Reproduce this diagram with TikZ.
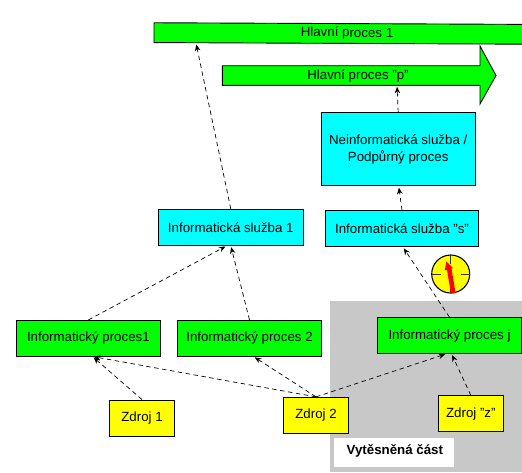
\documentclass[tikz,border=0pt]{standalone}
\usepackage{fontspec}
\setmainfont{Liberation Sans}
\usetikzlibrary{arrows.meta,calc}
\definecolor{procgreen}{RGB}{0,255,0}
\definecolor{svccyan}{RGB}{0,255,255}
\definecolor{srcyellow}{RGB}{255,255,0}
\definecolor{areagray}{RGB}{200,200,200}
\newcommand{\lbl}{\fontsize{13.3}{17}\selectfont}
\tikzset{
  box/.style={draw=black,line width=0.9pt,inner sep=0pt,align=center,font=\lbl},
  procbox/.style={box,fill=procgreen,minimum width=144.7pt,minimum height=35.7pt},
  svcbox/.style={box,fill=svccyan,minimum width=145pt,minimum height=36pt},
  srcbox/.style={box,fill=srcyellow,minimum width=65pt,minimum height=36pt},
  link/.style={draw=black,line width=0.7pt,dash pattern=on 4.5pt off 3.5pt,-{Stealth[length=6.5pt,width=5.5pt]},shorten >=1.5pt},
}
\begin{document}
\begin{tikzpicture}[x=1pt,y=-1pt]
\useasboundingbox (0,0) rectangle (522,472);
% displaced area
\fill[areagray] (330,301) rectangle (522,472);
\fill[white] (334,438) rectangle (454,467);
\node[font=\lbl\bfseries,anchor=west,inner sep=0pt] (vyt) at (346.5,451) {Vytěsněná část};
% main processes
\node[box,fill=procgreen,minimum width=386pt,minimum height=19.8pt,rotate=-0.25] (main1) at (347,33.5) {Hlavní proces 1};
\draw[box,fill=procgreen] (222.3,65.7) -- (480,65.7) -- (480,46) -- (496,75.5) -- (480,104) -- (480,85.3) -- (222.3,85.3) -- cycle;
\node[inner sep=0pt,font=\lbl] (mainp) at (358,75.5) {Hlavní proces "p"};
\coordinate (mainpin) at (397,85.3);
\coordinate (mainin) at (196,43);
% services
\node[box,fill=svccyan,minimum width=153.7pt,minimum height=73pt] (neinf) at (398.2,149.2) {Neinformatická služba /\\Podpůrný proces};
\node[svcbox] (s1) at (230.8,227.3) {Informatická služba 1};
\node[box,fill=svccyan,minimum width=153.7pt,minimum height=36pt] (ss) at (402,228.7) {Informatická služba "s"};
% IT processes
\node[procbox] (ip1) at (88.4,338.2) {Informatický proces1};
\node[procbox] (ip2) at (249.5,338.2) {Informatický proces 2};
\node[procbox] (ipj) at (449.5,335.5) {Informatický proces j};
% sources
\node[srcbox] (z1) at (142,418) {Zdroj 1};
\node[srcbox] (z2) at (316,415.3) {Zdroj 2};
\node[srcbox] (zz) at (470.8,413.7) {Zdroj "z"};
% connectors
\draw[link] (ip1.north) -- ($(s1.south)+(-4,0)$);
\draw[link] (ip2.north) -- ($(s1.south)+(0,0)$);
\draw[link] (s1.north) -- (mainin);
\draw[link] (neinf.north) -- (mainpin);
\draw[link] (ss.north) -- ($(neinf.south)+(0.5,0)$);
\draw[link] (ipj.north) -- ($(ss.south)+(1,0)$);
\draw[link] (z1.north) -- ($(ip1.south)+(4,0)$);
\draw[link] (z2.north) -- ($(ip1.south)+(4,0)$);
\draw[link] (z2.north) -- ($(ip2.south)+(4,0)$);
\draw[link] (z2.north) -- ($(ipj.south)+(-3,0)$);
\draw[link] (zz.north) -- ($(ipj.south)+(2,0)$);
% clock
\coordinate (clk) at (450.7,274);
\filldraw[fill=srcyellow,draw=black,line width=1.1pt] (clk) circle (19);
\draw[black!80!srcyellow,line width=1pt] ($(clk)+(0,-19)$) -- ++(0,9) ($(clk)+(0,19)$) -- ++(0,-9) ($(clk)+(-19,0)$) -- ++(9,0) ($(clk)+(19,0)$) -- ++(-9,0);
\fill[red] (451,293.5) -- (455.5,292.8) -- (451.5,268.5) -- (453,268) -- (446.3,261.5) -- (444.8,270.5) -- (447,270) -- cycle;
\end{tikzpicture}
\end{document}
